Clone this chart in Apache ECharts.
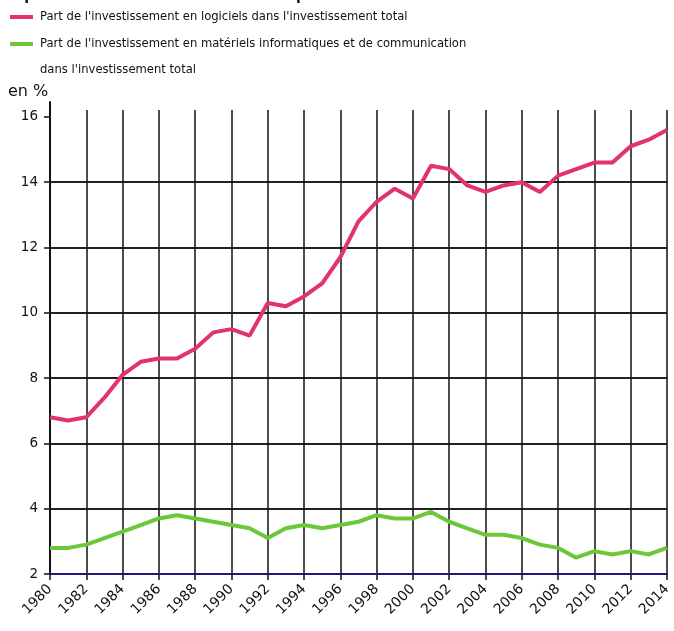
<!DOCTYPE html>
<html>
<head>
<meta charset="utf-8">
<script src="https://cdn.jsdelivr.net/npm/echarts@6/dist/echarts.min.js"></script>
<style>html,body{margin:0;padding:0;background:#fff}#c{width:674px;height:631px}</style>
</head>
<body>
<div id="c"></div>
<script>
var years = [];
for (var y = 1980; y <= 2014; y++) years.push(String(y));
var logiciels = [6.8,6.7,6.8,7.4,8.1,8.5,8.6,8.6,8.9,9.4,9.5,9.3,10.3,10.2,10.5,10.9,11.7,12.8,13.4,13.8,13.5,14.5,14.4,13.9,13.7,13.9,14.0,13.7,14.2,14.4,14.6,14.6,15.1,15.3,15.6];
var materiels = [2.8,2.8,2.9,3.1,3.3,3.5,3.7,3.8,3.7,3.6,3.5,3.4,3.1,3.4,3.5,3.4,3.5,3.6,3.8,3.7,3.7,3.9,3.6,3.4,3.2,3.2,3.1,2.9,2.8,2.5,2.7,2.6,2.7,2.6,2.8];
var yTicks = [2,4,6,8,10,12,14,16];
var seriesNames = ["Part de l'investissement en logiciels dans l'investissement total",
  "Part de l'investissement en matériels informatiques et de communication\ndans l'investissement total"];
var colors = ['#e2336e', '#6cc73a'];
var FONT = 'DejaVu Sans';

var chart = echarts.init(document.getElementById('c'), null, {renderer: 'canvas'});
chart.setOption({
  animation: false,
  backgroundColor: '#fff',
  textStyle: {fontFamily: FONT},
  graphic: [
    {type: 'text', left: 0, top: -11, style: {text: "en part de l'investissement des entreprises", font: 'bold 14px DejaVu Sans', fill: '#111'}},
    {type: 'rect', shape: {x: 10, y: 15, width: 23, height: 4}, style: {fill: colors[0]}},
    {type: 'text', left: 40, top: 4, style: {text: seriesNames[0], font: '11.6px DejaVu Sans', fill: '#111', lineHeight: 26}},
    {type: 'rect', shape: {x: 10, y: 42, width: 23, height: 4}, style: {fill: colors[1]}},
    {type: 'text', left: 40, top: 31, style: {text: seriesNames[1], font: '11.6px DejaVu Sans', fill: '#111', lineHeight: 26}},
    {type: 'text', left: 8, top: 84, style: {text: 'en %', font: '16px DejaVu Sans', fill: '#111'}}
  ],
  grid: [
    {left: 50, right: 5, top: 110, bottom: 57, containLabel: false},
    {left: 50, right: 5, top: 102, bottom: 57, containLabel: false}
  ],
  xAxis: [{
    type: 'category', data: years, boundaryGap: false, gridIndex: 0,
    axisLine: {show: true, lineStyle: {color: '#1c1c80', width: 2}},
    axisTick: {show: true, interval: 1, length: 6, lineStyle: {color: '#111', width: 1.5}},
    axisLabel: {interval: 1, rotate: 45, fontSize: 14, color: '#111', margin: 13, fontFamily: FONT},
    splitLine: {show: true, interval: 1, lineStyle: {color: '#111', width: 1.5}}
  }, {
    type: 'category', data: years, gridIndex: 1, show: false
  }],
  yAxis: [{
    type: 'value', min: 2, max: 16.21, interval: 2, gridIndex: 0,
    axisLine: {show: true, lineStyle: {color: '#111', width: 2}},
    axisTick: {show: true, length: 6, customValues: yTicks, lineStyle: {color: '#111', width: 1.5}},
    axisLabel: {customValues: yTicks, fontSize: 13.5, color: '#111', margin: 12, fontFamily: FONT},
    splitLine: {show: true, showMaxLine: false, lineStyle: {color: '#222', width: 1.8}}
  }, {
    type: 'value', min: 0, max: 1, gridIndex: 1,
    axisLine: {show: true, lineStyle: {color: '#111', width: 2}},
    axisTick: {show: false}, axisLabel: {show: false}, splitLine: {show: false}
  }],
  series: [
    {name: seriesNames[0], type: 'line', data: logiciels, showSymbol: false, xAxisIndex: 0, yAxisIndex: 0,
     lineStyle: {color: colors[0], width: 4}, itemStyle: {color: colors[0]}, z: 5},
    {name: seriesNames[1], type: 'line', data: materiels, showSymbol: false, xAxisIndex: 0, yAxisIndex: 0,
     lineStyle: {color: colors[1], width: 4}, itemStyle: {color: colors[1]}, z: 5}
  ]
});
</script>
</body>
</html>
